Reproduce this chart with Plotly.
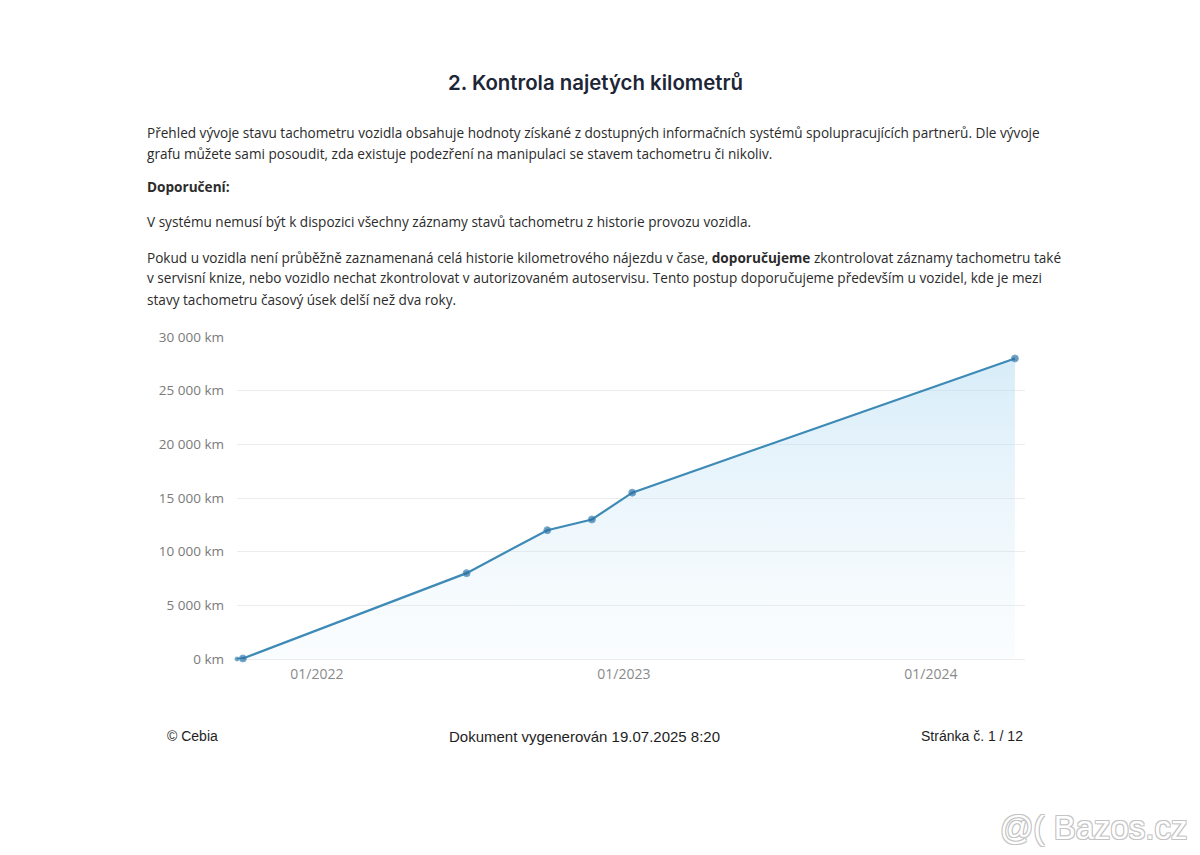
import plotly.graph_objects as go

# ---- data ----
dates = ["2021-09-28", "2021-10-05", "2022-06-28", "2022-10-02", "2022-11-24", "2023-01-11", "2024-04-10"]
km = [0, 50, 8000, 12000, 13000, 15500, 28000]
y_ticks = [0, 5000, 10000, 15000, 20000, 25000, 30000]
y_tick_labels = ["0 km", "5 000 km", "10 000 km", "15 000 km", "20 000 km", "25 000 km", "30 000 km"]
x_ticks = ["2022-01-01", "2023-01-01", "2024-01-01"]
x_tick_labels = ["01/2022", "01/2023", "01/2024"]

W, H = 1200, 855
L, R, T, B = 237, 1025, 337, 659  # plot area in pixels

def px(x):
    return (x - L) / (R - L)

def py(y):
    return (B - y) / (B - T)

fig = go.Figure()
fig.add_trace(go.Scatter(
    x=dates, y=km, mode="lines+markers",
    line=dict(color="#3d8ab6", width=2.2),
    marker=dict(color="#2a6ea3", size=[4, 7, 7, 7, 7, 7, 7]),
    fill="tozeroy",
    fillgradient=dict(type="vertical",
                      colorscale=[[0, "rgba(215,236,248,0.12)"], [1, "rgba(175,218,242,0.5)"]]),
    cliponaxis=False,
    hoverinfo="skip",
))

body_font = dict(family="Open Sans, Lato, sans-serif", size=13.6, color="#2b2b2b")
annotations = []
annotations.append(dict(text="2. Kontrola najetých kilometrů", x=px(595), y=py(83),
                        font=dict(family="Inter, Open Sans, sans-serif", size=20.4, color="#1d2636", weight=600)))
lines = [
    (132, "Přehled vývoje stavu tachometru vozidla obsahuje hodnoty získané z dostupných informačních systémů spolupracujících partnerů. Dle vývoje"),
    (153, "grafu můžete sami posoudit, zda existuje podezření na manipulaci se stavem tachometru či nikoliv."),
    (187, "<b>Doporučení:</b>"),
    (221, "V systému nemusí být k dispozici všechny záznamy stavů tachometru z historie provozu vozidla."),
    (257, "Pokud u vozidla není průběžně zaznamenaná celá historie kilometrového nájezdu v čase, <b>doporučujeme</b> zkontrolovat záznamy tachometru také"),
    (277, "v servisní knize, nebo vozidlo nechat zkontrolovat v autorizovaném autoservisu. Tento postup doporučujeme především u vozidel, kde je mezi"),
    (299, "stavy tachometru časový úsek delší než dva roky."),
]
for yy, t in lines:
    annotations.append(dict(text=t, x=px(145), y=py(yy), xanchor="left", font=body_font))

foot_font = dict(family="Liberation Sans, Arial, sans-serif", size=14, color="#1e1e1e")
annotations.append(dict(text="© Cebia", x=px(165), y=py(736), xanchor="left", font=foot_font))
annotations.append(dict(text="Dokument vygenerován 19.07.2025 8:20", x=px(584), y=py(736),
                        font=dict(family="Liberation Sans, Arial, sans-serif", size=15, color="#1e1e1e")))
annotations.append(dict(text="Stránka č. 1 / 12", x=px(1025), y=py(736), xanchor="right", font=foot_font))
annotations.append(dict(text="@( Bazos.cz", x=px(1190), y=py(827), xanchor="right",
                        font=dict(family="Liberation Sans, Arial, sans-serif", size=33, color="#ffffff",
                                  shadow="1px 1px 0 #c4c4c4, -1px -1px 0 #c4c4c4, 1px -1px 0 #c4c4c4, -1px 1px 0 #c4c4c4")))
for a in annotations:
    a.setdefault("xanchor", "center")
    a["yanchor"] = "middle"
    a["xref"] = "paper"
    a["yref"] = "paper"
    a["showarrow"] = False

fig.update_layout(
    width=W, height=H,
    margin=dict(l=L, r=W - R, t=T, b=H - B, pad=0),
    paper_bgcolor="white", plot_bgcolor="white",
    showlegend=False,
    annotations=annotations,
    xaxis=dict(range=["2021-09-28", "2024-04-22"], tickvals=x_ticks, ticktext=x_tick_labels,
               showgrid=False, zeroline=False, showline=False, ticks="",
               tickfont=dict(family="Open Sans, sans-serif", size=14, color="#8a8a8a"),
               ticklabelstandoff=5, fixedrange=True),
    yaxis=dict(range=[0, 30000], tickvals=y_ticks, ticktext=y_tick_labels,
               showgrid=True, gridcolor="#ececec", gridwidth=1,
               zeroline=True, zerolinecolor="#ececec", zerolinewidth=1,
               showline=False, ticks="",
               tickfont=dict(family="Open Sans, sans-serif", size=13.5, color="#7a7a7a"),
               ticklabelstandoff=12, fixedrange=True),
)

fig.write_html("out.html", config={"displayModeBar": False})
